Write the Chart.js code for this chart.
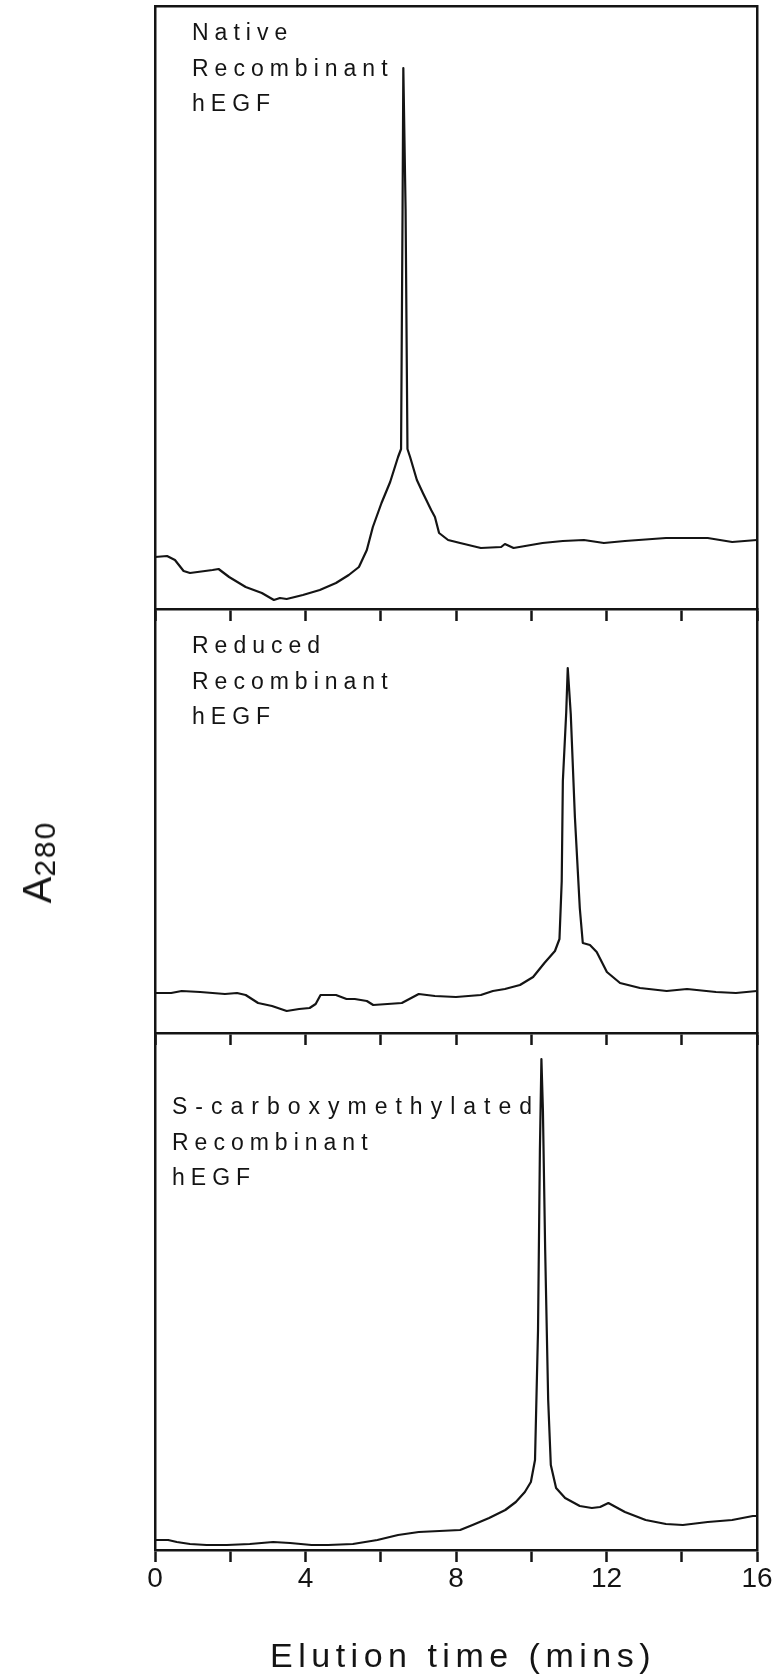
<!DOCTYPE html>
<html>
<head>
<meta charset="utf-8">
<title>Elution profiles of recombinant hEGF</title>
<script src="https://cdn.jsdelivr.net/npm/chart.js@4.4.1/dist/chart.umd.min.js"></script>
<style>
  html, body { margin: 0; padding: 0; background: #fff; }
  #wrap { position: relative; width: 777px; height: 1674px; overflow: hidden; }
  #wrap canvas { position: absolute; left: 0; top: 0; }
  .tag {
    position: absolute;
    font-family: 'Liberation Sans', Arial, sans-serif;
    font-size: 23px;
    line-height: 35.5px;
    letter-spacing: 6px;
    color: #141414;
    white-space: nowrap;
  }
  .tag .wide { letter-spacing: 8px; }
  #ylabel {
    position: absolute;
    left: 37px;
    top: 862px;
    transform: translate(-50%, -50%) rotate(-90deg);
    font-family: 'Liberation Sans', Arial, sans-serif;
    font-size: 40px;
    line-height: 40px;
    color: #141414;
    white-space: nowrap;
  }
  #ylabel sub { font-size: 30px; line-height: 0; vertical-align: -4px; letter-spacing: 2px; }
  #xlabel {
    position: absolute;
    left: 463px;
    top: 1635px;
    transform: translateX(-50%);
    font-family: 'Liberation Sans', Arial, sans-serif;
    font-size: 34px;
    line-height: 40px;
    letter-spacing: 5.5px;
    color: #141414;
    white-space: nowrap;
  }
</style>
</head>
<body>
<div id="wrap">
  <canvas id="native" width="777" height="1674"></canvas>
  <canvas id="reduced" width="777" height="1674"></canvas>
  <canvas id="scm" width="777" height="1674"></canvas>
  <div class="tag" id="tagNative" style="left:192px; top:15px;"></div>
  <div class="tag" id="tagReduced" style="left:192px; top:628px;"></div>
  <div class="tag" id="tagScm" style="left:172px; top:1089px;"></div>
  <div id="ylabel">A<sub>280</sub></div>
  <div id="xlabel">Elution time (mins)</div>
</div>
<script>
// elution time (min) and A280 (arbitrary units) for each run
const nativeTime = [0, 0.32, 0.53, 0.76, 0.93, 1.53, 1.69, 1.97, 2.41, 2.84, 3.16, 3.32, 3.50, 3.93, 4.38,
  4.81, 5.15, 5.42, 5.63, 5.79, 6.02, 6.25, 6.46, 6.54, 6.58, 6.60, 6.66, 6.71, 6.78, 6.96,
  7.12, 7.34, 7.44, 7.55, 7.79, 8.11, 8.66, 9.20, 9.30, 9.53, 10.30, 10.84, 11.40, 11.93, 12.49,
  13.58, 14.69, 15.34, 16.0];
const nativeA280 = [5.2, 5.3, 4.9, 3.8, 3.6, 3.9, 4.0, 3.2, 2.2, 1.6, 0.9, 1.1, 1.0, 1.4, 1.9,
  2.6, 3.4, 4.2, 5.9, 8.2, 10.6, 12.7, 15.2, 16.0, 40.0, 54.1, 40.0, 16.0, 15.2, 12.9,
  11.6, 9.9, 9.2, 7.6, 6.9, 6.6, 6.1, 6.2, 6.5, 6.1, 6.6, 6.8, 6.9, 6.6, 6.8,
  7.1, 7.1, 6.7, 6.9];

const reducedTime = [0, 0.43, 0.71, 1.20, 1.86, 2.18, 2.41, 2.74, 3.11, 3.50, 3.83, 4.11, 4.27, 4.40, 4.81,
  5.09, 5.31, 5.63, 5.80, 6.56, 7.01, 7.44, 8.00, 8.66, 8.98, 9.30, 9.70, 10.05, 10.35, 10.63,
  10.75, 10.81, 10.84, 10.93, 10.97, 11.05, 11.16, 11.29, 11.37, 11.56, 11.74, 12.01, 12.36, 12.89, 13.60,
  14.14, 14.91, 15.44, 16.0];
const reducedA280 = [4.0, 4.0, 4.2, 4.1, 3.9, 4.0, 3.8, 3.0, 2.7, 2.2, 2.4, 2.5, 2.9, 3.8, 3.8,
  3.4, 3.4, 3.2, 2.8, 3.0, 3.9, 3.7, 3.6, 3.8, 4.2, 4.4, 4.8, 5.6, 7.0, 8.2,
  9.4, 15.2, 25.2, 32.1, 36.5, 31.9, 21.6, 12.5, 9.0, 8.8, 8.1, 6.1, 5.0, 4.5, 4.2,
  4.4, 4.1, 4.0, 4.2];

const scmTime = [0, 0.35, 0.58, 0.93, 1.37, 1.91, 2.52, 3.14, 3.59, 4.16, 4.60, 5.26, 5.91, 6.46, 7.01,
  7.56, 8.11, 8.44, 8.88, 9.31, 9.59, 9.83, 9.99, 10.10, 10.18, 10.23, 10.27, 10.31, 10.37, 10.45,
  10.52, 10.66, 10.90, 11.29, 11.61, 11.83, 12.05, 12.49, 13.04, 13.58, 14.03, 14.69, 15.34, 15.89, 16.0];
const scmA280 = [1.0, 1.0, 0.8, 0.6, 0.5, 0.5, 0.6, 0.8, 0.7, 0.5, 0.5, 0.6, 1.0, 1.5, 1.8,
  1.9, 2.0, 2.5, 3.2, 4.0, 4.8, 5.8, 6.8, 9.0, 22.0, 40.0, 49.1, 44.0, 30.0, 15.0,
  8.5, 6.2, 5.2, 4.4, 4.2, 4.3, 4.7, 3.8, 3.0, 2.6, 2.5, 2.8, 3.0, 3.4, 3.4];

const xTickValues = [0, 2, 4, 6, 8, 10, 12, 14, 16];
const xTickLabels = [0, 4, 8, 12, 16];

const nativeLabel = ['Native', 'Recombinant', 'hEGF'];
const reducedLabel = ['Reduced', 'Recombinant', 'hEGF'];
const scmLabel = ['S-carboxymethylated', 'Recombinant', 'hEGF'];

const INK = '#141414';
const FONT = "'Liberation Sans', Arial, sans-serif";

function hiddenAxis(position, extra) {
    return Object.assign({
        position: position,
        display: true,
        ticks: { display: false },
        grid: { display: false, drawTicks: false },
        border: { display: true, color: INK, width: 2.5 }
    }, extra);
}

function makePanel(id, times, values, yMax, padding, withLabels, withTop) {
    const points = times.map((t, i) => ({ x: t, y: values[i] }));

    const xAxis = {
        type: 'linear',
        position: 'bottom',
        min: 0,
        max: 16,
        afterBuildTicks: axis => { axis.ticks = xTickValues.map(v => ({ value: v })); },
        border: { display: true, color: INK, width: 2.5 },
        grid: {
            display: true,
            drawOnChartArea: false,
            drawTicks: true,
            tickLength: 12,
            tickWidth: 2.5,
            tickColor: INK,
            color: INK
        },
        ticks: withLabels ? {
            display: true,
            color: INK,
            padding: 0,
            autoSkip: false,
            maxRotation: 0,
            font: { family: FONT, size: 28 },
            callback: v => xTickLabels.includes(v) ? String(v) : ''
        } : { display: false }
    };

    const scales = {
        x: xAxis,
        y: hiddenAxis('left', { type: 'linear', min: 0, max: yMax }),
        yRight: hiddenAxis('right', { type: 'linear', min: 0, max: yMax })
    };
    if (withTop) {
        scales.xTop = hiddenAxis('top', { type: 'linear', min: 0, max: 16 });
    }

    return new Chart(document.getElementById(id), {
        type: 'line',
        data: {
            datasets: [{
                data: points,
                borderColor: INK,
                borderWidth: 2.2,
                borderJoinStyle: 'round',
                pointRadius: 0,
                tension: 0,
                fill: false
            }]
        },
        options: {
            responsive: false,
            animation: false,
            devicePixelRatio: 1,
            layout: { padding: padding },
            plugins: { legend: { display: false }, tooltip: { enabled: false } },
            scales: scales
        }
    });
}

// three stacked runs sharing the same time axis
makePanel('native', nativeTime, nativeA280, 60.3,
    { top: 6, left: 155, right: 20, bottom: 1053 }, false, true);
makePanel('reduced', reducedTime, reducedA280, 42.4,
    { top: 609, left: 155, right: 20, bottom: 629 }, false, false);
makePanel('scm', scmTime, scmA280, 51.7,
    { top: 1033, left: 155, right: 20, bottom: 78.4 }, true, false);

function fillTag(id, lines, wideFirst) {
    const el = document.getElementById(id);
    el.innerHTML = lines.map((line, i) =>
        (i === 0 && wideFirst) ? '<span class="wide">' + line + '</span>' : line
    ).join('<br>');
}
fillTag('tagNative', nativeLabel, false);
fillTag('tagReduced', reducedLabel, false);
fillTag('tagScm', scmLabel, true);
</script>
</body>
</html>
